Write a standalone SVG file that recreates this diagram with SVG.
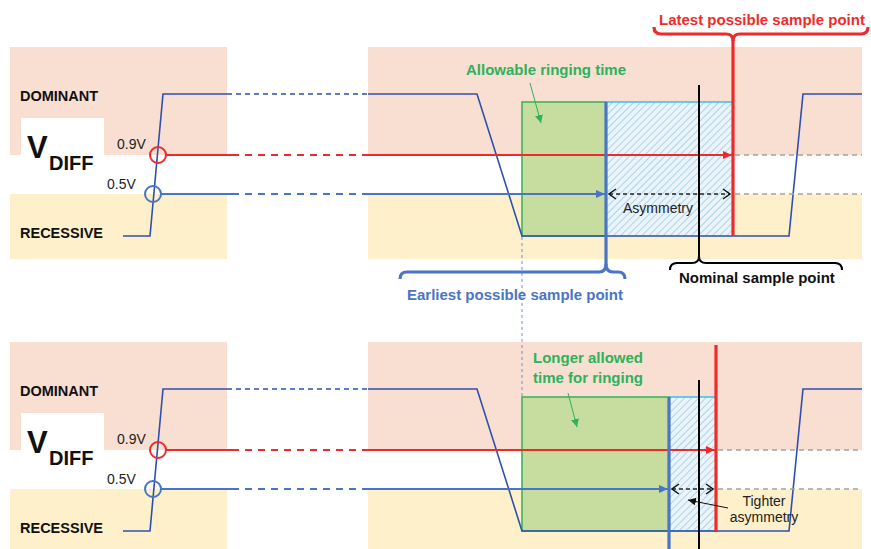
<svg xmlns="http://www.w3.org/2000/svg" width="871" height="549" viewBox="0 0 871 549">
<style>
.pink{fill:#F8DFD1}
.yel{fill:#FDF0CB}
.lbl{font-family:"Liberation Sans",Arial,sans-serif;font-weight:bold;fill:#111}
.sm{font-family:"Liberation Sans",Arial,sans-serif;font-size:14px;fill:#222}
.sig{fill:none;stroke:#2F4FB0;stroke-width:1.6}
.sigd{fill:none;stroke:#2F4FB0;stroke-width:1.6;stroke-dasharray:5 4}
.red{fill:none;stroke:#EE2B2B;stroke-width:2.2}
.redd{fill:none;stroke:#EE2B2B;stroke-width:2.2;stroke-dasharray:7 6}
.blu{fill:none;stroke:#4A74C6;stroke-width:2.2}
.blud{fill:none;stroke:#4A74C6;stroke-width:2.2;stroke-dasharray:7 6}
.grey{fill:none;stroke:#A3A3A3;stroke-width:1.5;stroke-dasharray:5 4}
.gr{fill:#C6DD9F;stroke:#3DB55C;stroke-width:1.6}
.hat{fill:url(#hatch)}
.thickb{stroke:#4A74C6;stroke-width:3.2;fill:none}
.thickr{stroke:#EE2B2B;stroke-width:3.2;fill:none}
.blk{stroke:#000;stroke-width:2;fill:none}
.asym{fill:none;stroke:#222;stroke-width:1.5;stroke-dasharray:4 3}
.big{font-family:"Liberation Sans",Arial,sans-serif;font-weight:bold;font-size:15px}
.gtxt{fill:#2DB25C}
</style>
<defs>
<pattern id="hatch" width="5" height="5" patternUnits="userSpaceOnUse" patternTransform="rotate(45)">
<rect width="5" height="5" fill="#EAF4FA"/>
<line x1="0" y1="0" x2="0" y2="5" stroke="#AED4EA" stroke-width="2"/>
</pattern>
<marker id="ahR" markerWidth="10" markerHeight="10" refX="9" refY="5" orient="auto" markerUnits="userSpaceOnUse"><path d="M0,1 L9,5 L0,9 Z" fill="#EE2B2B"/></marker>
<marker id="ahB" markerWidth="10" markerHeight="10" refX="9" refY="5" orient="auto" markerUnits="userSpaceOnUse"><path d="M0,1 L9,5 L0,9 Z" fill="#4A74C6"/></marker>
<marker id="ahG" markerWidth="10" markerHeight="10" refX="8" refY="4" orient="auto" markerUnits="userSpaceOnUse"><path d="M0,0 L8,4 L0,8 Z" fill="#2DB25C"/></marker>
<marker id="ahK" markerWidth="10" markerHeight="10" refX="8" refY="4" orient="auto" markerUnits="userSpaceOnUse"><path d="M0,0 L8,4 L0,8 Z" fill="#111"/></marker>
<marker id="chev" markerWidth="10" markerHeight="12" refX="8" refY="6" orient="auto-start-reverse" markerUnits="userSpaceOnUse"><path d="M1,1 L8,6 L1,11" fill="none" stroke="#111" stroke-width="1.5"/></marker>
</defs>

<g id="backgrounds">
<rect class="pink" x="10" y="47" width="217" height="108"/>
<rect class="yel" x="10" y="194" width="217" height="65"/>
<rect class="pink" x="368" y="47" width="494" height="108"/>
<rect class="yel" x="368" y="194" width="494" height="65"/>
<rect fill="#fff" x="21" y="118" width="83" height="76"/>
<rect class="pink" x="10" y="342" width="217" height="108"/>
<rect class="yel" x="10" y="489" width="217" height="60"/>
<rect class="pink" x="368" y="342" width="494" height="108"/>
<rect class="yel" x="368" y="489" width="494" height="60"/>
<rect fill="#fff" x="21" y="413" width="83" height="76"/>
</g>

<g id="top-ringing">
<rect class="gr" x="522" y="102" width="84" height="134"/>
</g>
<g id="top-asymmetry">
<rect class="hat" x="606" y="102" width="127" height="134"/>
<line x1="606" y1="102" x2="733" y2="102" stroke="#3DBDEB" stroke-width="1.6"/>
</g>
<g id="bottom-ringing">
<rect class="gr" x="522" y="397" width="147" height="134"/>
</g>
<g id="bottom-asymmetry">
<rect class="hat" x="669" y="397" width="47" height="134"/>
<line x1="669" y1="397" x2="716" y2="397" stroke="#3DBDEB" stroke-width="1.6"/>
<line x1="669" y1="531" x2="716" y2="531" stroke="#3DBDEB" stroke-width="1.6"/>
</g>

<g id="connectors">
<path class="sig" d="M123,236 L150,236 L163,94 L227,94"/>
<path class="sigd" d="M227,94 L368,94"/>
<path class="sig" d="M368,94 L477,94 L522,236 L789,236 L803,94 L862,94"/>
<path class="red" d="M166,155 L232,155"/>
<path class="redd" d="M232,155 L368,155"/>
<path class="red" d="M368,155 L732,155" marker-end="url(#ahR)"/>
<path class="blu" d="M161,194 L232,194"/>
<path class="blud" d="M232,194 L368,194"/>
<path class="blu" d="M368,194 L605,194" marker-end="url(#ahB)"/>
<path class="grey" d="M735,155 L862,155"/>
<path class="grey" d="M735,194 L862,194"/>
<path class="asym" d="M609,194 L730,194" marker-start="url(#chev)" marker-end="url(#chev)"/>
<line class="blk" x1="699" y1="85" x2="699" y2="258"/>
<path class="blk" d="M670,270 Q670,263 677,263 L692,263 Q699,263 699,256 Q699,263 706,263 L835,263 Q842,263 842,270"/>
<line class="thickb" x1="606" y1="102" x2="606" y2="265"/>
<path class="thickb" d="M400,279 Q400,272 407,272 L599,272 Q606,272 606,264 Q606,272 613,272 L618,272 Q625,272 625,279"/>
<line class="thickr" x1="733" y1="40" x2="733" y2="236"/>
<path class="thickr" d="M654,27 Q654,34 661,34 L726,34 Q733,34 733,41 Q733,34 740,34 L861,34 Q868,34 868,27"/>
<path fill="none" stroke="#6A93D4" stroke-width="1" stroke-dasharray="3 3" d="M522,237 L522,397"/>
<path fill="none" stroke="#2DB25C" stroke-width="1" d="M530,83 L541,123" marker-end="url(#ahG)"/>

<path class="sig" d="M123,531 L150,531 L163,389 L227,389"/>
<path class="sigd" d="M227,389 L368,389"/>
<path class="sig" d="M368,389 L477,389 L522,531 L789,531 L803,389 L862,389"/>
<path class="red" d="M166,450 L232,450"/>
<path class="redd" d="M232,450 L368,450"/>
<path class="red" d="M368,450 L715,450" marker-end="url(#ahR)"/>
<path class="blu" d="M161,489 L232,489"/>
<path class="blud" d="M232,489 L368,489"/>
<path class="blu" d="M368,489 L668,489" marker-end="url(#ahB)"/>
<path class="grey" d="M718,450 L862,450"/>
<path class="grey" d="M718,489 L862,489"/>
<path class="asym" d="M672,489 L713,489" marker-start="url(#chev)" marker-end="url(#chev)"/>
<line class="blk" x1="699" y1="380" x2="699" y2="549"/>
<line class="thickb" x1="669" y1="397" x2="669" y2="549"/>
<line class="thickr" x1="716" y1="345" x2="716" y2="532"/>
<path fill="none" stroke="#2DB25C" stroke-width="1" d="M568,393 L577,427" marker-end="url(#ahG)"/>
<path fill="none" stroke="#111" stroke-width="1" d="M728,508 L688,500" marker-end="url(#ahK)"/>
</g>

<g id="thresholds">
<circle cx="158" cy="155" r="8" fill="none" stroke="#EE2B2B" stroke-width="2"/>
<circle cx="153" cy="194" r="8" fill="none" stroke="#4A74C6" stroke-width="2"/>
<circle cx="158" cy="450" r="8" fill="none" stroke="#EE2B2B" stroke-width="2"/>
<circle cx="153" cy="489" r="8" fill="none" stroke="#4A74C6" stroke-width="2"/>
</g>

<g id="top-labels">
<text class="lbl" x="20" y="101" font-size="14.5">DOMINANT</text>
<text class="lbl" x="20" y="238" font-size="14.5">RECESSIVE</text>
<text class="lbl" x="27" y="158" font-size="31">V</text>
<text class="lbl" x="49" y="170" font-size="20">DIFF</text>
<text class="sm" x="117" y="149">0.9V</text>
<text class="sm" x="107" y="189">0.5V</text>
<text class="sm" x="658" y="213" text-anchor="middle" font-size="13.5">Asymmetry</text>
<text class="big gtxt" x="466" y="75">Allowable ringing time</text>
<text class="big" x="659" y="25" fill="#EE2B2B">Latest possible sample point</text>
<text class="big" x="679" y="283" fill="#111">Nominal sample point</text>
<text class="big" x="407" y="300" fill="#4A74C6">Earliest possible sample point</text>
</g>
<g id="bottom-labels">
<text class="lbl" x="20" y="396" font-size="14.5">DOMINANT</text>
<text class="lbl" x="20" y="533" font-size="14.5">RECESSIVE</text>
<text class="lbl" x="27" y="453" font-size="31">V</text>
<text class="lbl" x="49" y="465" font-size="20">DIFF</text>
<text class="sm" x="117" y="444">0.9V</text>
<text class="sm" x="107" y="484">0.5V</text>
<text class="big gtxt" x="533" y="363">Longer allowed</text>
<text class="big gtxt" x="533" y="383">time for ringing</text>
<text class="sm" x="764" y="506" text-anchor="middle" font-size="13.5">Tighter</text>
<text class="sm" x="764" y="522" text-anchor="middle" font-size="13.5">asymmetry</text>
</g>
</svg>
